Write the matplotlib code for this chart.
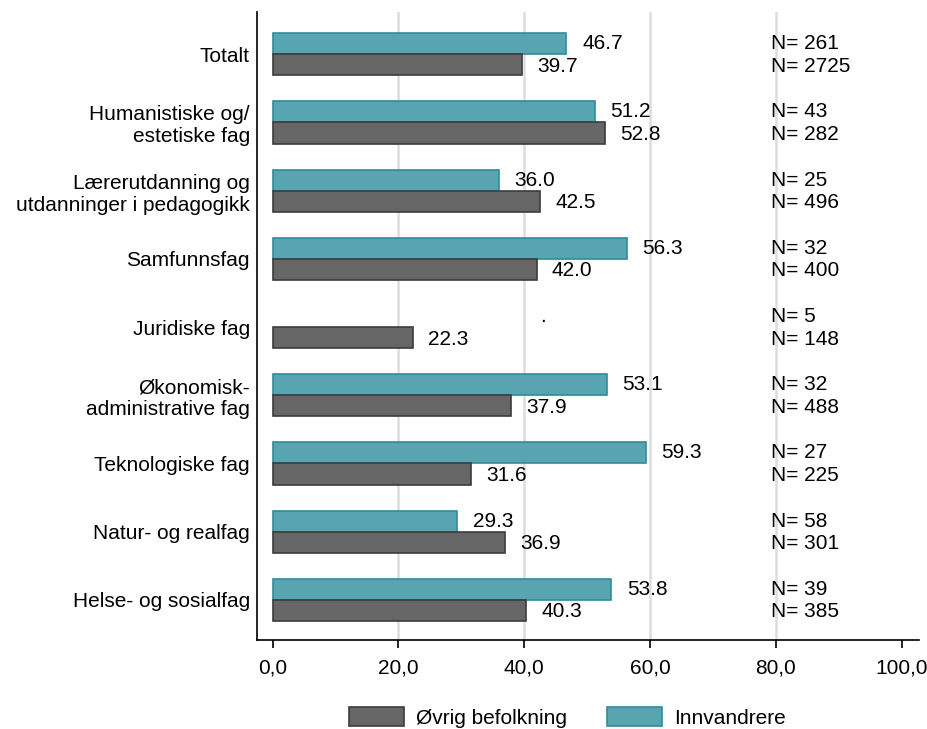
import numpy as np
import matplotlib
matplotlib.use('Agg')
import matplotlib.pyplot as plt
from matplotlib.patches import Patch

plt.rcParams['font.family'] = ['Liberation Sans', 'DejaVu Sans']

categories = ["Totalt", "Humanistiske og/\nestetiske fag",
              "Lærerutdanning og\nutdanninger i pedagogikk", "Samfunnsfag",
              "Juridiske fag", "Økonomisk-\nadministrative fag",
              "Teknologiske fag", "Natur- og realfag", "Helse- og sosialfag"]
innvandrere = [46.7, 51.2, 36.0, 56.3, np.nan, 53.1, 59.3, 29.3, 53.8]
ovrig = [39.7, 52.8, 42.5, 42.0, 22.3, 37.9, 31.6, 36.9, 40.3]
n_innv = [261, 43, 25, 32, 5, 32, 27, 58, 39]
n_ovrig = [2725, 282, 496, 400, 148, 488, 225, 301, 385]
xticks = [0, 20, 40, 60, 80, 100]

teal = '#58a5b1'
teal_edge = '#2f8c9b'
grey = '#666666'
grey_edge = '#3c3c3c'
fs = 15

fig = plt.figure(figsize=(9.27, 7.29), dpi=100)
ax = fig.add_axes([0.277, 0.122, 0.714, 0.8615])

y = np.arange(len(categories))
h = 0.31
innv = np.array(innvandrere)
ok = ~np.isnan(innv)
ax.barh(y[ok] - h / 2, innv[ok], height=h, color=teal,
        edgecolor=teal_edge, linewidth=1.2, zorder=3)
ax.barh(y + h / 2, ovrig, height=h, color=grey,
        edgecolor=grey_edge, linewidth=1.2, zorder=3)

for i in range(len(categories)):
    v = innvandrere[i]
    if np.isnan(v):
        ax.text(42.5, y[i] - h / 2, '.', fontsize=fs, va='center', ha='left')
    else:
        ax.text(v + 2.5, y[i] - h / 2, f'{v:.1f}', fontsize=fs, va='center', ha='left')
    ax.text(ovrig[i] + 2.4, y[i] + h / 2 + 0.02, f'{ovrig[i]:.1f}', fontsize=fs,
            va='center', ha='left')
    ax.text(79.2, y[i] - h / 2, f'N= {n_innv[i]}', fontsize=fs, va='center', ha='left')
    ax.text(79.2, y[i] + h / 2 + 0.02, f'N= {n_ovrig[i]}', fontsize=fs,
            va='center', ha='left')

ax.set_xlim(-2.5, 102.7)
ax.set_ylim(len(categories) - 1 + 0.59, -0.62)
ax.set_yticks(y)
ax.set_yticklabels(categories, fontsize=fs)
ax.tick_params(axis='y', length=0, pad=5)
ax.set_xticks(xticks)
ax.set_xticklabels([f'{t},0' for t in xticks], fontsize=fs)
ax.tick_params(axis='x', length=6, width=1.2, pad=7)

for t in xticks[1:-1]:
    ax.axvline(t, color='#dddddd', linewidth=1.8, zorder=0)

ax.spines['top'].set_visible(False)
ax.spines['right'].set_visible(False)
ax.spines['left'].set_linewidth(1.2)
ax.spines['bottom'].set_linewidth(1.2)

handles = [Patch(facecolor=grey, edgecolor=grey_edge, linewidth=1.2),
           Patch(facecolor=teal, edgecolor=teal_edge, linewidth=1.2)]
fig.legend(handles, ['Øvrig befolkning', 'Innvandrere'], loc='center',
           bbox_to_anchor=(0.612, 0.016), ncol=2, frameon=False, fontsize=fs,
           handlelength=2.64, handleheight=1.06, handletextpad=0.58,
           columnspacing=1.9)

fig.savefig('out.png', dpi=100)
